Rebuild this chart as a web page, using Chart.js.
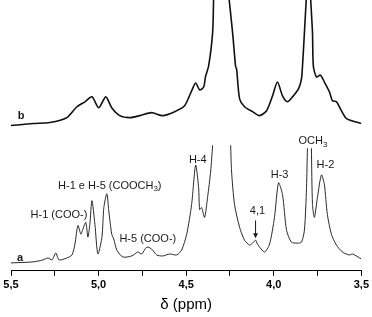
<!DOCTYPE html>
<html>
<head>
<meta charset="utf-8">
<script src="https://cdn.jsdelivr.net/npm/chart.js@4.4.1/dist/chart.umd.min.js"></script>
<style>
  html, body { margin: 0; padding: 0; background: #fff; }
  #wrap { width: 372px; height: 317px; }
</style>
</head>
<body>
<div id="wrap"><canvas id="nmr"></canvas></div>
<script>
// spectrum a (lower trace), chemical shift in ppm and intensity (a.u.)
const ppmA = [5.500, 5.375, 5.318, 5.289, 5.266, 5.244, 5.226, 5.181, 5.152, 5.135,
  5.118, 5.101, 5.090, 5.073, 5.061, 5.050, 5.038, 5.021, 5.004, 4.981,
  4.970, 4.953, 4.942, 4.925, 4.913, 4.896, 4.862, 4.811, 4.776, 4.754,
  4.725, 4.697, 4.668, 4.634, 4.594, 4.554, 4.526, 4.497, 4.469, 4.446,
  4.429, 4.423, 4.412, 4.395, 4.378, 4.360, 4.349, 4.298, 4.246, 4.241,
  4.224, 4.195, 4.167, 4.138, 4.121, 4.104, 4.093, 4.053, 4.024, 3.996,
  3.973, 3.950, 3.927, 3.899, 3.865, 3.842, 3.825, 3.813, 3.808, 3.796,
  3.785, 3.779, 3.768, 3.751, 3.728, 3.711, 3.694, 3.671, 3.642, 3.608,
  3.568, 3.551, 3.500];
const intA = [8, 9, 11, 13, 11, 18, 11, 13, 16, 27,
  46, 37, 42, 49, 34, 47, 71, 47, 17, 34,
  64, 78, 61, 37, 32, 21, 14, 15, 19, 17,
  24, 22, 16, 15, 17, 16, 21, 37, 67, 107,
  84, 62, 64, 54, 74, 101, 127, null, 127, 101,
  67, 44, 31, 26, 28, 31, 27, 19, 27, 54,
  89, 77, 41, 29, 28, 29, 41, 84, 124, null,
  124, 67, 54, 74, 97, 87, 57, 37, 26, 19,
  16, 17, 12];

// spectrum b (upper trace)
const ppmB = [5.500, 5.375, 5.278, 5.181, 5.124, 5.078, 5.038, 4.999, 4.959, 4.925,
  4.879, 4.822, 4.765, 4.697, 4.634, 4.566, 4.509, 4.469, 4.446, 4.423,
  4.400, 4.389, 4.372, 4.349, 4.343, 4.298, 4.258, 4.235, 4.218, 4.212,
  4.195, 4.167, 4.121, 4.081, 4.041, 4.007, 3.979, 3.950, 3.922, 3.893,
  3.859, 3.842, 3.836, 3.825, 3.813, 3.802, 3.791, 3.779, 3.774, 3.756,
  3.734, 3.711, 3.682, 3.665, 3.642, 3.614, 3.585, 3.500];
const intB = [147, 149, 150, 155, 166, 171, 176, 165, 176, 165,
  157, 155, 157, 160, 157, 161, 167, 182, 190, 183,
  186, 197, 207, 241, 280, null, 280, 241, 207, 204,
  174, 166, 161, 157, 162, 177, 191, 177, 171, 176,
  184, 194, 207, 241, 280, null, 280, 241, 207, 196,
  198, 191, 181, 172, 171, 162, 154, 149];

const shiftMin = 3.5;
const shiftMax = 5.5;
const intMax = 274;

// peak assignments: [text, subscript?] parts, placed at (ppm, intensity)
const peakLabels = [
  { parts: [['b']], ppm: 5.443, int: 157, bold: true },
  { parts: [['a']], ppm: 5.449, int: 13, bold: true },
  { parts: [['H-1 (COO-)']], ppm: 5.226, int: 56 },
  { parts: [['H-1 e H-5 (COOCH'], ['3', true], [')']], ppm: 4.936, int: 86 },
  { parts: [['H-5 (COO-)']], ppm: 4.719, int: 32 },
  { parts: [['H-4']], ppm: 4.434, int: 112 },
  { parts: [['4,1']], ppm: 4.093, int: 61 },
  { parts: [['H-3']], ppm: 3.967, int: 97 },
  { parts: [['OCH'], ['3', true]], ppm: 3.776, int: 131 },
  { parts: [['H-2']], ppm: 3.705, int: 107 }
];
const arrowPpm = 4.104;
const arrowFrom = 51;
const arrowTo = 33;

const FONT = '"Liberation Sans", Arial, sans-serif';

function toPoints(xs, ys) {
  return xs.map((v, i) => ({ x: v, y: ys[i] }));
}

const peakLabelPlugin = {
  id: 'peakLabels',
  afterDatasetsDraw(chart) {
    const { ctx, scales: { x, y } } = chart;
    ctx.save();
    ctx.fillStyle = '#1a1a1a';
    ctx.textBaseline = 'middle';
    ctx.textAlign = 'left';

    peakLabels.forEach(lbl => {
      const px = x.getPixelForValue(lbl.ppm);
      const py = y.getPixelForValue(lbl.int);
      const mainFont = (lbl.bold ? 'bold ' : '') + '11px ' + FONT;
      const subFont = '8px ' + FONT;
      let w = 0;
      lbl.parts.forEach(([t, sub]) => {
        ctx.font = sub ? subFont : mainFont;
        w += ctx.measureText(t).width;
      });
      let cx = px - w / 2;
      lbl.parts.forEach(([t, sub]) => {
        ctx.font = sub ? subFont : mainFont;
        ctx.fillText(t, cx, sub ? py + 3 : py);
        cx += ctx.measureText(t).width;
      });
    });

    // arrow under "4,1"
    const ax = x.getPixelForValue(arrowPpm);
    const y0 = y.getPixelForValue(arrowFrom);
    const y1 = y.getPixelForValue(arrowTo);
    ctx.strokeStyle = '#1a1a1a';
    ctx.lineWidth = 1;
    ctx.beginPath();
    ctx.moveTo(ax, y0);
    ctx.lineTo(ax, y1 - 4);
    ctx.stroke();
    ctx.beginPath();
    ctx.moveTo(ax - 2.5, y1 - 5);
    ctx.lineTo(ax + 2.5, y1 - 5);
    ctx.lineTo(ax, y1);
    ctx.closePath();
    ctx.fill();
    ctx.restore();
  }
};

new Chart(document.getElementById('nmr').getContext('2d'), {
  type: 'line',
  data: {
    datasets: [
      {
        label: 'a',
        data: toPoints(ppmA, intA),
        borderColor: '#2a2a2a',
        borderWidth: 1,
        pointRadius: 0,
        tension: 0.25,
        spanGaps: false
      },
      {
        label: 'b',
        data: toPoints(ppmB, intB),
        borderColor: '#111',
        borderWidth: 1.6,
        pointRadius: 0,
        tension: 0.25,
        spanGaps: false
      }
    ]
  },
  options: {
    responsive: true,
    maintainAspectRatio: false,
    animation: false,
    layout: { padding: { left: 11, right: 10, top: 0, bottom: 0 } },
    plugins: {
      legend: { display: false },
      tooltip: { enabled: false }
    },
    scales: {
      x: {
        type: 'linear',
        reverse: true,
        min: shiftMin,
        max: shiftMax,
        border: { display: true, color: '#000', width: 1 },
        grid: { drawOnChartArea: false, drawTicks: true, tickLength: 5, color: '#000' },
        ticks: {
          stepSize: 0.25,
          autoSkip: false,
          maxRotation: 0,
          padding: 3,
          color: '#000',
          font: { family: FONT, size: 11, weight: 'bold' },
          callback: v => (Math.abs(v * 2 - Math.round(v * 2)) < 1e-6 ? v.toFixed(1).replace('.', ',') : '')
        },
        title: {
          display: true,
          text: 'δ (ppm)',
          color: '#000',
          font: { family: FONT, size: 15 },
          padding: { top: 1, bottom: 3 }
        }
      },
      y: {
        display: false,
        min: 0,
        max: intMax
      }
    }
  },
  plugins: [peakLabelPlugin]
});
</script>
</body>
</html>
